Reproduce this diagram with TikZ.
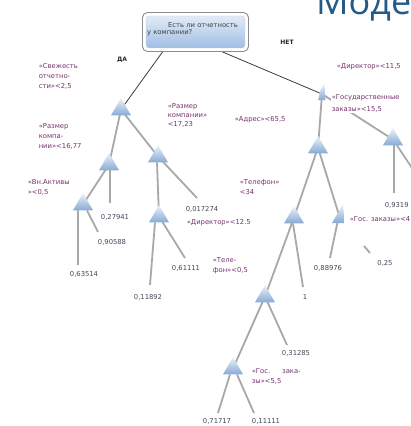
\documentclass[tikz,border=0pt]{standalone}
\usepackage{fontspec}
\setmainfont{DejaVu Sans}
\newfontfamily\headfont{Open Sans}
\usetikzlibrary{shapes.geometric,backgrounds}
\definecolor{lbl}{RGB}{120,50,110}
\definecolor{leafc}{RGB}{70,72,90}
\definecolor{edgec}{RGB}{168,168,168}
\definecolor{rootl}{RGB}{60,60,60}
\definecolor{tritop}{RGB}{236,243,251}
\definecolor{tribot}{RGB}{135,170,212}
\definecolor{headc}{RGB}{35,90,135}
\definecolor{boxtop}{RGB}{225,235,247}
\definecolor{boxbot}{RGB}{160,190,228}
\begin{document}
\begin{tikzpicture}[x=1pt,y=-1pt,
  tri/.style={regular polygon, regular polygon sides=3, minimum size=23pt, inner sep=0pt, top color=tritop, bottom color=tribot, draw=none},
  edge/.style={draw=edgec, line width=1.8pt},
  rootedge/.style={draw=rootl, line width=0.8pt},
  lab/.style={text=lbl, font=\fontsize{6.8}{10}\selectfont, align=left, inner sep=0.6pt, fill=white, anchor=north west},
  leaf/.style={text=leafc, font=\fontsize{6.8}{8}\selectfont, inner sep=0.6pt, fill=white},
  yn/.style={font=\bfseries\fontsize{6}{7}\selectfont, text=black!85},
  boxtxt/.style={font=\fontsize{6.8}{8}\selectfont, text=black!75, inner sep=0pt, anchor=west}
]
\useasboundingbox (0,0) rectangle (411,426);

% heading
\node[font=\headfont\fontsize{36}{36}\selectfont, text=headc, anchor=base west, inner sep=0pt] (head) at (316,14) {Моде};

% root box
\node[draw=black!45, fill=white, rounded corners=5pt, line width=0.9pt, minimum width=106pt, minimum height=39pt] (R) at (195.5,32) {};
\shade[top color=boxtop, bottom color=boxbot, rounded corners=3pt, draw=black!20, line width=0.3pt]
  ([shift={(4,-4)}]R.south west) rectangle ([shift={(-4,4)}]R.north east);
\node[boxtxt] (t1) at (168,25) {Есть ли отчетность};
\node[boxtxt] (t2) at (147,33) {у компании?};

\node[yn] (da) at (122,60) {ДА};
\node[yn] (net) at (287,42) {НЕТ};

% triangles
\node[tri] (A) at (121,109.5) {};
\node[tri] (B) at (109,164.5) {};
\node[tri] (C) at (158,156.5) {};
\node[tri] (D) at (83,204.5) {};
\node[tri] (E) at (159,216.5) {};
\node[tri] (G) at (318,147.5) {};
\node[tri] (H) at (393,139.5) {};
\node[tri] (I) at (294,217.5) {};
\node[tri] (K) at (265,296.5) {};
\node[tri] (L) at (233,368.5) {};
% slivers
\coordinate (F) at (322,94);
\coordinate (J) at (339,215);
\shade[top color=tritop, bottom color=tribot] (324.5,84) .. controls (320,90) .. (318.5,100) -- (325.5,100) -- cycle;
\shade[top color=tritop, bottom color=tribot] (343,204) -- (332,223) -- (344.5,223) -- cycle;

% free ends
\coordinate (c27) at (110,203);
\coordinate (c63) at (78,265);
\coordinate (c90) at (98,232);
\coordinate (c017) at (197,198);
\coordinate (c118) at (150,285);
\coordinate (c611) at (185,258);
\coordinate (Hx) at (420,180);
\coordinate (c93) at (394,193);
\coordinate (c889) at (330,258);
\coordinate (j25a) at (364,246);
\coordinate (j25b) at (370,253);
\coordinate (c1) at (303,287);
\coordinate (c312) at (287,345);
\coordinate (c717) at (218,413);
\coordinate (c111) at (254,413);

\begin{scope}[on background layer]
  \draw[rootedge] ([xshift=-33pt]R.south) -- (A.center);
  \draw[rootedge] ([xshift=27pt]R.south) -- (F);
  \draw[edge] (A.center) -- (B.center);
  \draw[edge] (A.center) -- (C.center);
  \draw[edge] (B.center) -- (D.center);
  \draw[edge] ([xshift=1pt]B.south) -- (c27);
  \draw[edge] ([xshift=-5pt]D.south) -- (c63);
  \draw[edge] ([xshift=4pt]D.south) -- (c90);
  \draw[edge] ([xshift=-1pt]C.south) -- (E.center);
  \draw[edge] (C.center) -- (c017);
  \draw[edge] ([xshift=-4pt]E.south) -- (c118);
  \draw[edge] (E.center) -- (c611);
  \draw[edge] (F) -- (G.center);
  \draw[edge] (F) -- (H.center);
  \draw[edge] (H.center) -- (Hx);
  \draw[edge] ([xshift=1pt]H.south) -- (c93);
  \draw[edge] (G.center) -- (I.center);
  \draw[edge] (G.center) -- (J);
  \draw[edge] (J) -- (c889);
  \draw[edge] (j25a) -- (j25b);
  \draw[edge] (I.center) -- (K.center);
  \draw[edge] ([xshift=-1pt]I.south) -- (c1);
  \draw[edge] (K.center) -- (c312);
  \draw[edge] (K.center) -- (L.center);
  \draw[edge] ([xshift=-3pt]L.south) -- (c717);
  \draw[edge] ([xshift=4pt]L.south) -- (c111);
\end{scope}

% labels
\node[lab] (l1) at (38,63) {«Свежесть\\отчетно-\\сти»<2,5};
\node[lab] (l2) at (38,123) {«Размер\\компа-\\нии»<16,77};
\node[lab, font=\fontsize{6.8}{9}\selectfont] (l3) at (167,103) {«Размер\\компании»\\<17,23};
\node[lab, font=\fontsize{6.8}{9.5}\selectfont] (l4) at (27,179) {«Вн.Активы\\»<0,5};
\node[lab] (l5) at (186,219) {«Директор»<12.5};
\node[lab] (l6) at (212,257) {«Теле-\\фон»<0,5};
\node[lab] (l7) at (336,63) {«Директор»<11,5};
\node[lab, font=\fontsize{6.8}{12}\selectfont] (l8) at (331,94) {«Государственные\\заказы»<15,5};
\node[lab] (l9) at (234,116) {«Адрес»<65,5};
\node[lab] (l10) at (239,179) {«Телефон»\\<34};
\node[lab] (l11) at (349,216) {«Гос. заказы»<4};
\node[lab] (l12) at (251,368) {«Гос.\hspace{12pt}зака-\\зы»<5,5};

% leaves
\node[leaf] (v1) at (115,217) {0,27941};
\node[leaf] (v2) at (84,274) {0,63514};
\node[leaf] (v3) at (112,242) {0,90588};
\node[leaf] (v4) at (202,209) {0,017274};
\node[leaf] (v5) at (148,297) {0,11892};
\node[leaf] (v6) at (186,268) {0,61111};
\node[leaf, anchor=west] (v7) at (384,205) {0,9319};
\node[leaf] (v8) at (328,268) {0,88976};
\node[leaf] (v9) at (385,263) {0,25};
\node[leaf] (v10) at (305,297) {1};
\node[leaf] (v11) at (296,353) {0,31285};
\node[leaf] (v12) at (217,421) {0,71717};
\node[leaf] (v13) at (266,421) {0,11111};
\end{tikzpicture}
\end{document}
